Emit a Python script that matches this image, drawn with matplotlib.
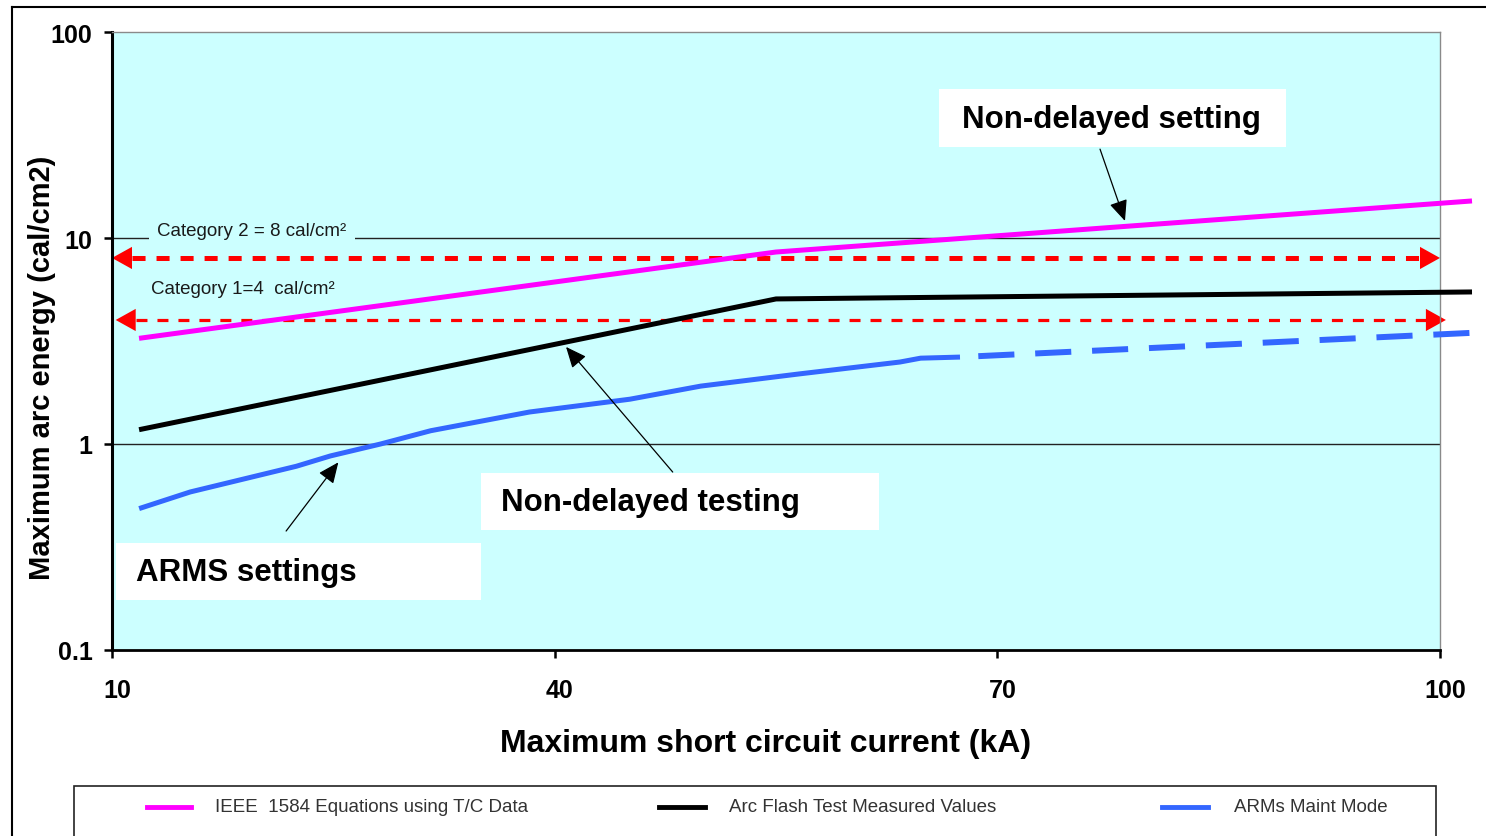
import matplotlib.pyplot as plt
import matplotlib.transforms as mtransforms
from matplotlib.lines import Line2D
from matplotlib.patches import Rectangle
from matplotlib.ticker import NullLocator

plt.rcParams['font.family'] = ['Liberation Sans', 'DejaVu Sans']
plt.rcParams['lines.scale_dashes'] = False

# maximum short circuit current (kA) vs maximum arc energy (cal/cm2)
current_ka = [12, 55, 102]
ieee_energy = [3.27, 8.55, 15.1]
test_energy = [1.18, 5.06, 5.47]

arms_current = [12, 15.3, 22.5, 24.8, 28.2, 31.6, 38.3, 45.1, 49.9, 56.6, 63.4, 64.8, 67.3]
arms_energy = [0.49, 0.585, 0.78, 0.875, 1.0, 1.16, 1.43, 1.65, 1.91, 2.19, 2.5, 2.61, 2.64]
arms_ext_current = [67.3, 102]
arms_ext_energy = [2.64, 3.46]

category_levels = [8, 4]
category_labels = ['Category 2 = 8 cal/cm²', 'Category 1=4  cal/cm²']

x_ticks = [10, 40, 70, 100]
x_tick_labels = ['10', '40', '70', '100']
y_ticks = [0.1, 1, 10, 100]
y_tick_labels = ['0.1', '1', '10', '100']

series_labels = ['IEEE  1584 Equations using T/C Data',
                 'Arc Flash Test Measured Values',
                 'ARMs Maint Mode']
series_colors = ['#ff00ff', '#000000', '#3366ff']

W, H = 1486, 837
AX_L, AX_R, AX_T, AX_B = 112, 1440, 33, 651
BG = '#ccffff'


def ax_frac(px, py):
    # pixel position on the canvas -> axes fraction
    return (px - AX_L) / (AX_R - AX_L), (AX_B - py) / (AX_B - AX_T)


fig = plt.figure(figsize=(W / 100, H / 100), dpi=100)
ax = fig.add_axes([AX_L / W, (H - AX_B) / H, (AX_R - AX_L) / W, (AX_B - AX_T) / H])
ax.set_facecolor(BG)
ax.set_yscale('log')
ax.set_xlim(10, 100)
ax.set_ylim(0.1, 100)

# reference lines at 1 and 10 cal/cm2
for lvl in (10, 1):
    ax.axhline(lvl, color='#222222', lw=1.0, zorder=1)

# curves
ax.plot(current_ka, ieee_energy, color=series_colors[0], lw=3.6, clip_on=False, zorder=3)
ax.plot(current_ka, test_energy, color=series_colors[1], lw=3.6, clip_on=False, zorder=3)
ax.plot(arms_current, arms_energy, color=series_colors[2], lw=3.6, clip_on=False, zorder=3)
ax.plot(arms_ext_current, arms_ext_energy, color=series_colors[2], lw=4.3,
        linestyle=(26, (26, 15)), clip_on=False, zorder=3)

# PPE category levels: dashed double arrows
cat_spans = [(10.0, 100.0), (10.25, 100.4)]
cat_styles = [dict(lw=3.6, ls=(0, (9.4, 7.9))), dict(lw=2.3, ls=(0, (7.9, 7.2)))]
head_dx = 1.36
for lvl, (x0, x1), st in zip(category_levels, cat_spans, cat_styles):
    ax.plot([x0 + head_dx, x1 - head_dx], [lvl, lvl], color='red', lw=st['lw'],
            linestyle=st['ls'], clip_on=False, zorder=2)
    for tip, base in ((x0, x0 + head_dx), (x1, x1 - head_dx)):
        ax.annotate('', xy=(tip, lvl), xytext=(base, lvl), annotation_clip=False,
                    arrowprops=dict(arrowstyle='-|>,head_length=0.72,head_width=0.4',
                                    mutation_scale=20, lw=0, fc='red', ec='none',
                                    shrinkA=0, shrinkB=0), zorder=2)

ax.text(*ax_frac(252, 232), category_labels[0], transform=ax.transAxes, ha='center',
        va='center', fontsize=13.5, color='#1a1a1a', zorder=2,
        bbox=dict(boxstyle='square,pad=0.45', fc=BG, ec='none'))
ax.text(*ax_frac(243, 290), category_labels[1], transform=ax.transAxes, ha='center',
        va='center', fontsize=13.5, color='#1a1a1a', zorder=2)

# callout boxes
callouts = [
    ('Non-delayed setting', (939, 90, 1286, 148), (1111, 120), 'center'),
    ('Non-delayed testing', (481, 474, 879, 531), (501, 503), 'left'),
    ('ARMS settings', (116, 544, 481, 601), (136, 573), 'left'),
]
for text, (bx0, by0, bx1, by1), (tx, ty), ha in callouts:
    x0, y0 = ax_frac(bx0, by1)
    ax.add_patch(Rectangle((x0, y0), (bx1 - bx0) / (AX_R - AX_L), (by1 - by0) / (AX_B - AX_T),
                           transform=ax.transAxes, fc='white', ec='none', zorder=4))
    ax.text(*ax_frac(tx, ty), text, transform=ax.transAxes, ha=ha, va='center',
            fontsize=22.5, fontweight='bold', zorder=5)

pointers = [((76.96, 27.0), (78.65, 12.1)),
            ((48.0, 0.731), (40.77, 2.96)),
            ((21.8, 0.378), (25.34, 0.815))]
for tail, tip in pointers:
    ax.annotate('', xy=tip, xytext=tail, zorder=5,
                arrowprops=dict(arrowstyle='-|>,head_length=0.8,head_width=0.35',
                                mutation_scale=16, lw=0.9, color='black',
                                shrinkA=0, shrinkB=0))

# axes styling
ax.set_xticks(x_ticks, labels=x_tick_labels)
ax.set_yticks(y_ticks, labels=y_tick_labels)
ax.yaxis.set_minor_locator(NullLocator())
ax.tick_params(axis='both', length=6, width=1.8, direction='out', labelsize=18)
ax.tick_params(axis='x', pad=14)
ax.tick_params(axis='y', pad=8)
for lbl in ax.get_xticklabels() + ax.get_yticklabels():
    lbl.set_fontweight('bold')
shift = mtransforms.ScaledTranslation(5 / 100, 0, fig.dpi_scale_trans)
for lbl in ax.get_xticklabels():
    lbl.set_transform(lbl.get_transform() + shift)

ax.spines['left'].set_linewidth(2.2)
ax.spines['bottom'].set_linewidth(2.0)
for side in ('top', 'right'):
    ax.spines[side].set_color('#8a8a8a')
    ax.spines[side].set_linewidth(1.0)

ax.set_xlabel('Maximum short circuit current (kA)', fontsize=23, fontweight='bold', va='center')
ax.xaxis.set_label_coords(*ax_frac(766, 744))
ax.set_ylabel('Maximum arc energy (cal/cm2)', fontsize=21, fontweight='bold', va='center')
ax.yaxis.set_label_coords(*ax_frac(42, 368))

# legend strip along the bottom
fig.add_artist(Rectangle((74 / W, -0.02), (1436 - 74) / W, (837 - 787) / H + 0.02,
                         transform=fig.transFigure, fill=False, ec='#222222', lw=1.2))
leg_y = 1 - 808 / H
for label, color, (hx0, hx1), tx in zip(series_labels, series_colors,
                                         [(147, 191), (659, 705), (1162, 1208)],
                                         [215, 729, 1234]):
    fig.add_artist(Line2D([hx0 / W, hx1 / W], [leg_y, leg_y], color=color, lw=3.5))
    fig.text(tx / W, leg_y, label, fontsize=13.5, va='center', color='#333333')

# outer frame
fig.add_artist(Line2D([12 / W, 12 / W], [0, 1 - 8 / H], color='black', lw=1.5))
fig.add_artist(Line2D([12 / W, 1], [1 - 8 / H, 1 - 8 / H], color='black', lw=1.5))

fig.savefig('out.png', dpi=100)
